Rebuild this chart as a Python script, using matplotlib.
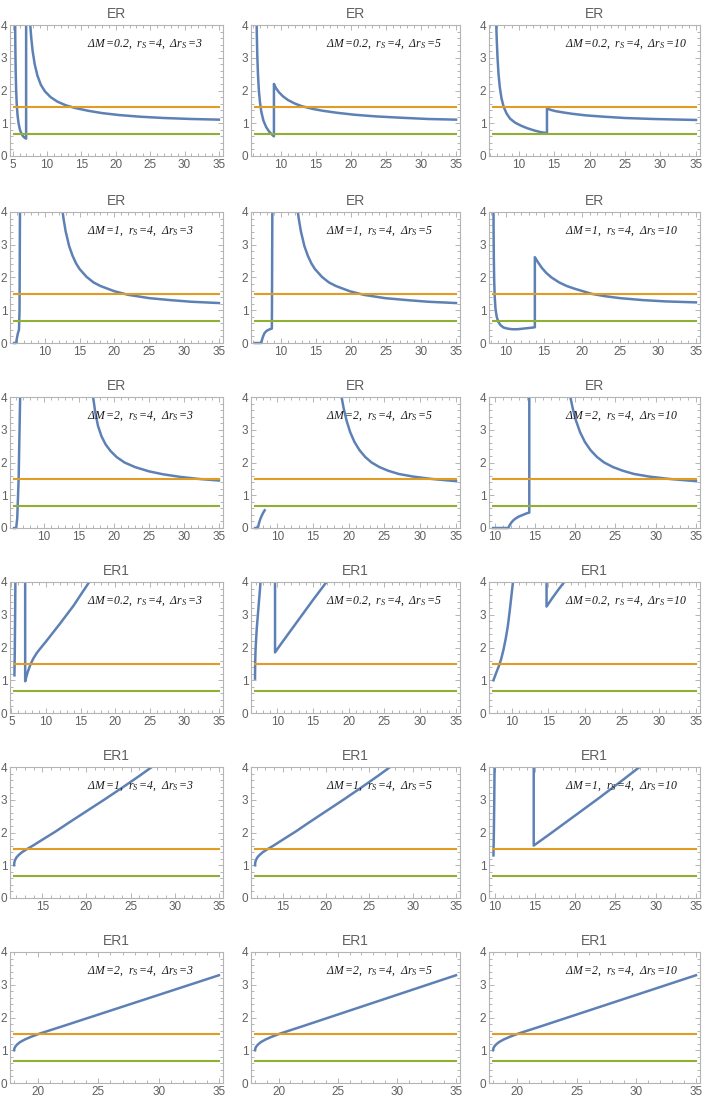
import matplotlib
matplotlib.use('Agg')
import matplotlib.pyplot as plt
from matplotlib.ticker import MultipleLocator, FormatStrFormatter
from matplotlib.patches import Rectangle

# ================= 1. configuration =================
BLUE = '#5E81B5'
ORANGE = '#E19C24'
GREEN = '#8FB032'
FRAME = '#B4B4B4'
GRAY_TEXT = '#606060'

plt.rcParams['font.family'] = ['Liberation Sans', 'DejaVu Sans']
plt.rcParams['mathtext.fontset'] = 'custom'
plt.rcParams['mathtext.rm'] = 'Liberation Serif:italic'
plt.rcParams['mathtext.it'] = 'Liberation Serif:italic'

# horizontal reference levels
ORANGE_LEVEL = 1.5
GREEN_LEVEL = 0.667
X_END = 35

TITLES = ['ER', 'ER', 'ER', 'ER1', 'ER1', 'ER1']
DM_LABELS = ['0.2', '1', '2', '0.2', '1', '2']
DR_LABELS = ['3', '5', '10']

# first x value of every panel (row by row)
X_START = [
    [5.2, 6.3, 6.4],
    [5.6, 6.3, 8.3],
    [5.7, 6.9, 9.8],
    [5.4, 6.9, 7.5],
    [11.8, 11.8, 9.8],
    [18.0, 18.0, 18.0],
]

# ================= 2. curves =================
# ER, dM = 0.2
er_m02_r3 = [
    ([5.34, 5.38, 5.43, 5.5, 5.58, 5.7, 5.85, 6.05, 6.3, 6.55, 6.8, 6.95, 6.95],
     [4.4, 3.4, 2.6, 2.0, 1.6, 1.25, 1.0, 0.8, 0.67, 0.59, 0.55, 0.53, 4.4]),
    ([7.5, 7.55, 7.7, 7.9, 8.2, 8.6, 9.1, 9.7, 10.5, 11.5, 12.7, 14, 16, 18, 20.5, 23.5, 27, 31, 35],
     [4.4, 4.0, 3.6, 3.2, 2.8, 2.45, 2.17, 1.97, 1.8, 1.66, 1.55, 1.47, 1.38, 1.31, 1.25, 1.2, 1.16,
      1.13, 1.11]),
]
er_m02_r5 = [
    ([6.5, 6.55, 6.62, 6.72, 6.85, 7.0, 7.2, 7.5, 7.9, 8.3, 8.7, 9.0,
      9.0, 9.3, 9.7, 10.3, 11, 12, 13, 14.5, 16, 18, 20.5, 23.5, 27, 31, 35],
     [4.4, 3.8, 3.1, 2.5, 2.0, 1.65, 1.35, 1.08, 0.88, 0.75, 0.66, 0.6,
      2.2, 2.07, 1.95, 1.82, 1.71, 1.6, 1.52, 1.44, 1.38, 1.32, 1.26, 1.21, 1.17, 1.13, 1.11]),
]
er_m02_r10 = [
    ([6.8, 6.85, 6.93, 7.03, 7.17, 7.35, 7.6, 7.9, 8.3, 8.8, 9.5, 10.3, 11.2, 12.2, 13.1, 14.0,
      14.0, 14.5, 15.2, 16, 17.5, 19.5, 22, 25, 29, 35],
     [4.4, 4.0, 3.5, 3.0, 2.5, 2.1, 1.75, 1.5, 1.3, 1.14, 1.02, 0.93, 0.85, 0.78, 0.73, 0.7,
      1.45, 1.41, 1.37, 1.34, 1.29, 1.24, 1.2, 1.16, 1.13, 1.1]),
]

# ER, dM = 1
er_m1_r3 = [
    ([5.6, 5.9, 5.95, 6.05, 6.15, 6.3, 6.38, 6.45], [0, 0, 0.08, 0.2, 0.3, 0.4, 1.0, 4.4]),
    ([12.55, 12.7, 13, 13.5, 14, 14.5, 15, 16, 17, 18, 20, 22, 25, 28, 31, 35],
     [4.03, 3.79, 3.41, 2.96, 2.66, 2.43, 2.26, 2.02, 1.85, 1.74, 1.58, 1.47, 1.37, 1.31, 1.26, 1.22]),
]
er_m1_r5 = [
    ([6.3, 7.2, 7.3, 7.45, 7.65, 7.95, 8.3, 8.7, 8.72, 8.78],
     [0, 0, 0.1, 0.2, 0.3, 0.37, 0.41, 0.44, 1.0, 4.4]),
    ([12.4, 12.55, 12.85, 13.35, 13.85, 14.35, 14.85, 15.85, 16.85, 17.85, 19.85, 21.85, 24.85, 28,
      31, 35],
     [4.03, 3.79, 3.41, 2.96, 2.66, 2.43, 2.26, 2.02, 1.85, 1.74, 1.58, 1.47, 1.37, 1.31, 1.26, 1.22]),
]
er_m1_r10 = [
    ([8.35, 8.37, 8.4, 8.45, 8.52, 8.62, 8.78, 9.0, 9.3, 9.7, 10.2, 10.8, 11.5, 12.3, 13.1, 13.8,
      13.8, 14.2, 14.7, 15.3, 16, 17, 18, 19, 20, 21.3, 23, 25, 28, 31, 35],
     [4.4, 3.5, 2.6, 1.9, 1.4, 1.05, 0.8, 0.64, 0.54, 0.47, 0.44, 0.42, 0.42, 0.44, 0.46, 0.48,
      2.62, 2.47, 2.3, 2.14, 2.0, 1.85, 1.74, 1.66, 1.59, 1.5, 1.43, 1.37, 1.31, 1.27, 1.24]),
]

# ER, dM = 2
er_m2_r3 = [
    ([5.7, 6.0, 6.15, 6.35, 6.6], [0, 0, 0.3, 1.5, 4.4]),
    ([16.95, 17.0, 17.3, 17.7, 18.2, 18.8, 19.5, 20.4, 21.5, 23, 25, 27, 29.5, 32, 35],
     [4.1, 4.0, 3.55, 3.12, 2.8, 2.55, 2.35, 2.16, 2.0, 1.86, 1.73, 1.64, 1.56, 1.5, 1.45]),
]
er_m2_r5 = [
    ([6.9, 7.3, 7.38, 7.5, 7.65, 7.85, 8.05, 8.25], [0, 0, 0.08, 0.18, 0.28, 0.38, 0.47, 0.54]),
    ([18.9, 19.0, 19.3, 19.7, 20.2, 20.8, 21.5, 22.3, 23.2, 24.3, 25.5, 27, 29, 31.5, 35],
     [4.4, 4.0, 3.65, 3.28, 2.93, 2.63, 2.38, 2.17, 2.0, 1.86, 1.75, 1.65, 1.57, 1.5, 1.43]),
]
er_m2_r10 = [
    ([9.8, 11.7, 11.8, 11.9, 12.05, 12.3, 12.6, 13.0, 13.5, 14.0, 14.3, 14.3],
     [0, 0, 0.06, 0.1, 0.16, 0.23, 0.29, 0.35, 0.4, 0.45, 0.47, 4.4]),
    ([19.3, 19.4, 19.7, 20.1, 20.6, 21.2, 21.9, 22.7, 23.6, 24.7, 25.9, 27.3, 29.2, 31.6, 35],
     [4.4, 4.0, 3.65, 3.28, 2.93, 2.63, 2.38, 2.17, 2.0, 1.86, 1.75, 1.65, 1.57, 1.5, 1.43]),
]

# ER1, dM = 0.2
er1_m02_r3 = [
    ([5.45, 5.5, 5.55, 5.6], [1.15, 1.9, 3.0, 4.4]),
    ([7.0, 7.0, 7.05, 7.1, 7.2, 7.35, 7.55, 7.8, 8.2, 8.7, 9.3, 10, 11, 12, 13, 14, 15, 16.2, 16.5],
     [4.4, 0.97, 0.98, 1.05, 1.13, 1.24, 1.36, 1.5, 1.67, 1.84, 2.0, 2.18, 2.45, 2.72, 3.0, 3.28,
      3.6, 3.98, 4.08]),
]
er1_m02_r5 = [
    ([6.9, 6.91, 6.93, 6.97, 7.05, 7.15, 7.3, 7.45, 7.6, 7.7],
     [1.05, 1.3, 1.6, 1.9, 2.25, 2.6, 3.0, 3.4, 3.8, 4.1]),
    ([9.7, 9.7, 10.5, 12, 13.5, 15, 16.9, 17.2], [4.4, 1.85, 2.1, 2.55, 3.0, 3.45, 4.0, 4.1]),
]
er1_m02_r10 = [
    ([7.55, 7.75, 8.0, 8.3, 8.6, 8.9, 9.2, 9.5, 9.75, 10.0, 10.2, 10.3],
     [1.0, 1.12, 1.27, 1.44, 1.65, 1.92, 2.25, 2.65, 3.1, 3.6, 4.0, 4.2]),
    ([14.75, 14.75, 15.5, 16.3, 17.15, 17.5], [4.4, 3.25, 3.5, 3.75, 4.0, 4.1]),
]

# ER1, dM = 1
er1_m1_r3 = [
    ([11.8, 11.82, 11.87, 11.95, 12.1, 12.35, 12.7, 13.3, 14.0, 15, 16.5, 18, 20, 22, 24, 26, 27.4,
      27.7],
     [1.0, 1.07, 1.13, 1.18, 1.25, 1.32, 1.4, 1.5, 1.61, 1.78, 2.03, 2.3, 2.65, 3.0, 3.36, 3.73, 4.0,
      4.05]),
]
er1_m1_r5 = [
    ([11.8, 11.82, 11.87, 11.95, 12.1, 12.35, 12.7, 13.3, 14.0, 15, 16.5, 18, 20, 22, 24, 26, 27.4,
      27.7],
     [1.0, 1.07, 1.13, 1.18, 1.25, 1.32, 1.4, 1.5, 1.61, 1.78, 2.03, 2.3, 2.65, 3.0, 3.36, 3.73, 4.0,
      4.05]),
]
er1_m1_r10 = [
    ([9.85, 9.9, 9.95, 10.0], [1.3, 2.0, 3.0, 4.4]),
    ([14.85, 14.85, 17, 20, 23, 26, 28.0, 28.3], [4.4, 1.6, 1.98, 2.52, 3.06, 3.62, 4.0, 4.05]),
]

# ER1, dM = 2
er1_m2_r3 = [
    ([18.0, 18.03, 18.1, 18.25, 18.5, 18.9, 19.4, 20.13, 22, 25, 28, 31, 35],
     [1.0, 1.06, 1.11, 1.175, 1.25, 1.33, 1.41, 1.51, 1.73, 2.09, 2.45, 2.81, 3.29]),
]
er1_m2_r5 = [
    ([18.0, 18.03, 18.1, 18.25, 18.5, 18.9, 19.4, 20.13, 22, 25, 28, 31, 35],
     [1.0, 1.06, 1.11, 1.175, 1.25, 1.33, 1.41, 1.51, 1.73, 2.09, 2.45, 2.81, 3.29]),
]
er1_m2_r10 = [
    ([18.0, 18.03, 18.1, 18.25, 18.5, 18.9, 19.4, 20.13, 22, 25, 28, 31, 35],
     [1.0, 1.06, 1.11, 1.175, 1.25, 1.33, 1.41, 1.51, 1.73, 2.09, 2.45, 2.81, 3.29]),
]

PANELS = [
    [er_m02_r3, er_m02_r5, er_m02_r10],
    [er_m1_r3, er_m1_r5, er_m1_r10],
    [er_m2_r3, er_m2_r5, er_m2_r10],
    [er1_m02_r3, er1_m02_r5, er1_m02_r10],
    [er1_m1_r3, er1_m1_r5, er1_m1_r10],
    [er1_m2_r3, er1_m2_r5, er1_m2_r10],
]

# ================= 3. layout (pixels) =================
FIG_W, FIG_H = 706, 1106
COL_LEFT = [10, 251, 489]
COL_WIDTH = [213, 209, 211]
ROW_TOP = [25, 212, 397, 582, 767, 952]
ROW_HEIGHT = 131

fig = plt.figure(figsize=(FIG_W / 100, FIG_H / 100), dpi=100)

for i in range(6):
    for j in range(3):
        l, w = COL_LEFT[j], COL_WIDTH[j]
        t = ROW_TOP[i]
        ax = fig.add_axes([l / FIG_W, 1 - (t + ROW_HEIGHT) / FIG_H, w / FIG_W, ROW_HEIGHT / FIG_H])

        xs = X_START[i][j]
        pad = 0.02 * (X_END - xs)
        ax.set_xlim(xs - pad, X_END + pad)
        ax.set_ylim(0, 4)

        clip = Rectangle((0, -0.02), 1, 1.02, transform=ax.transAxes, facecolor='none', edgecolor='none')
        ax.add_patch(clip)
        for sx, sy in PANELS[i][j]:
            line, = ax.plot(sx, sy, color=BLUE, lw=1.8, solid_joinstyle='round')
            line.set_clip_path(clip)
        ax.plot([xs, X_END], [ORANGE_LEVEL, ORANGE_LEVEL], color=ORANGE, lw=1.5)
        ax.plot([xs, X_END], [GREEN_LEVEL, GREEN_LEVEL], color=GREEN, lw=1.5)

        label = (r'$\Delta M\,$=' + DM_LABELS[i] + r',  $r_S\,$=4,  $\Delta r_S\,$=' + DR_LABELS[j])
        ax.text(0.36, 0.85, label, transform=ax.transAxes, ha='left', va='center',
                fontsize=8.5, fontstyle='italic', family='Liberation Serif', color='#1a1a1a')

        ax.set_title(TITLES[i], fontsize=10, color=GRAY_TEXT, pad=5)

        ax.xaxis.set_major_locator(MultipleLocator(5))
        ax.xaxis.set_minor_locator(MultipleLocator(1))
        ax.yaxis.set_major_locator(MultipleLocator(1))
        ax.yaxis.set_minor_locator(MultipleLocator(0.2))
        ax.xaxis.set_major_formatter(FormatStrFormatter('%d'))
        ax.yaxis.set_major_formatter(FormatStrFormatter('%d'))
        ax.tick_params(which='both', direction='in', top=True, right=True, color=FRAME,
                       labelcolor=GRAY_TEXT, labelsize=8.5, width=0.7)
        ax.tick_params(which='major', length=3.5, pad=2)
        ax.tick_params(which='minor', length=2)
        for sp in ax.spines.values():
            sp.set_color(FRAME)
            sp.set_linewidth(0.8)

fig.savefig('out.png', dpi=100)
